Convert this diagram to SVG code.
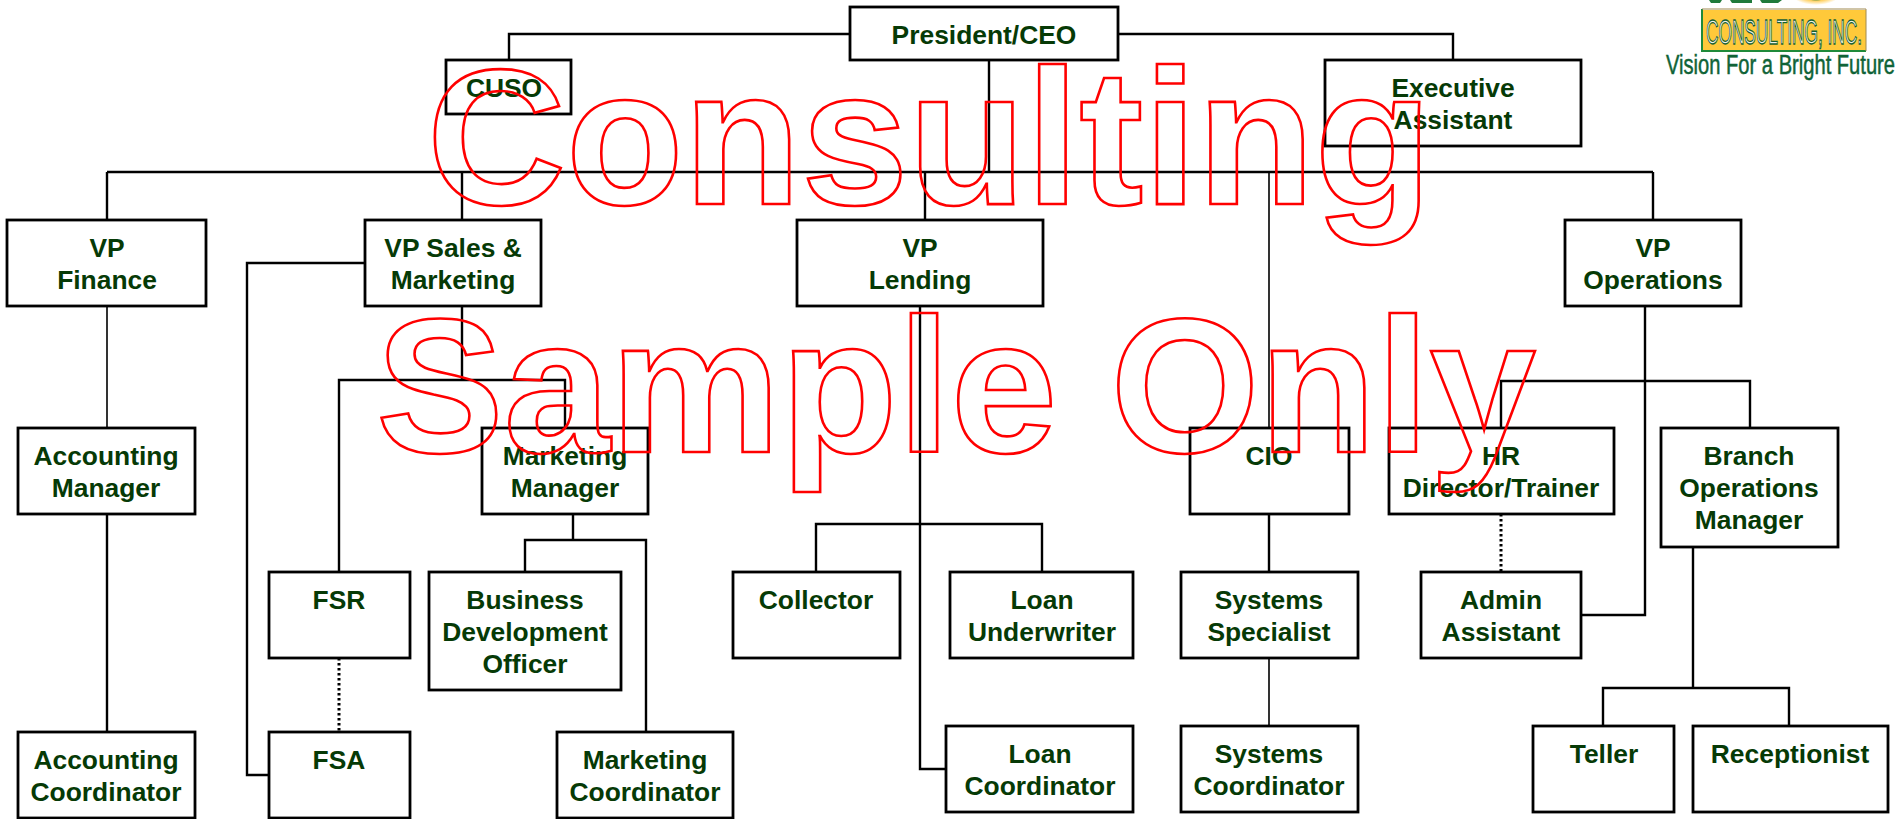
<svg xmlns="http://www.w3.org/2000/svg" width="1896" height="819" viewBox="0 0 1896 819">
<defs>
<radialGradient id="sun"><stop offset="0.6" stop-color="#1f7a3a"/><stop offset="0.68" stop-color="#ffd060"/><stop offset="1" stop-color="#fff"/></radialGradient>
</defs>
<style>
.n{fill:#fff;stroke:#000;stroke-width:2.8}
.t{font:bold 26.4px "Liberation Sans",Arial,sans-serif;fill:#063a06;text-anchor:middle}
.c{fill:none;stroke:#000;stroke-width:2.4}
.f{fill:none;stroke:#000;stroke-width:1.6}
.d{fill:none;stroke:#000;stroke-width:3;stroke-dasharray:2.5 2.5}
.w{font-family:"Liberation Sans",Arial,sans-serif;font-weight:bold;fill:none;stroke:#f00;stroke-width:2.6}
</style>
<rect width="1896" height="819" fill="#fff"/>
<g id="connectors">
<path class="c" d="M850 34H509V60M1118 34H1453V60M989 60V172M107 172H1653M107 172V220M462 172V220M925 172V220M1653 172V220"/>
<path class="f" d="M1269 172V428M107 306V428M1269 658V726"/>
<path class="c" d="M107 514V732M365 263H247V775H269M462 306V380M339 572V380H565V428M573 514V540M525 572V540H646V732M920 306V769H946M816 572V524H1042V572M1269 514V572M1501 428V381H1750V428M1645 306V615H1581M1693 547V688M1603 726V688H1789V726"/>
<path class="d" d="M339 658V732M1501 514V572"/>
</g>
<g id="president"><rect class="n" x="850" y="7" width="268" height="53"/><text class="t" x="984" y="44">President/CEO</text></g>
<g id="cuso"><rect class="n" x="446" y="60" width="125" height="54"/><text class="t" x="504" y="97">CUSO</text></g>
<g id="exec"><rect class="n" x="1325" y="60" width="256" height="86"/><text class="t" x="1453" y="97">Executive</text><text class="t" x="1453" y="129">Assistant</text></g>
<g id="vp-finance"><rect class="n" x="7" y="220" width="199" height="86"/><text class="t" x="107" y="257">VP</text><text class="t" x="107" y="289">Finance</text></g>
<g id="vp-sales"><rect class="n" x="365" y="220" width="176" height="86"/><text class="t" x="453" y="257">VP Sales &amp;</text><text class="t" x="453" y="289">Marketing</text></g>
<g id="vp-lending"><rect class="n" x="797" y="220" width="246" height="86"/><text class="t" x="920" y="257">VP</text><text class="t" x="920" y="289">Lending</text></g>
<g id="vp-ops"><rect class="n" x="1565" y="220" width="176" height="86"/><text class="t" x="1653" y="257">VP</text><text class="t" x="1653" y="289">Operations</text></g>
<g id="acct-mgr"><rect class="n" x="18" y="428" width="177" height="86"/><text class="t" x="106" y="465">Accounting</text><text class="t" x="106" y="497">Manager</text></g>
<g id="mkt-mgr"><rect class="n" x="482" y="428" width="166" height="86"/><text class="t" x="565" y="465">Marketing</text><text class="t" x="565" y="497">Manager</text></g>
<g id="cio"><rect class="n" x="1190" y="428" width="159" height="86"/><text class="t" x="1269" y="465">CIO</text></g>
<g id="hr"><rect class="n" x="1389" y="428" width="225" height="86"/><text class="t" x="1501" y="465">HR</text><text class="t" x="1501" y="497">Director/Trainer</text></g>
<g id="branch"><rect class="n" x="1661" y="428" width="177" height="119"/><text class="t" x="1749" y="465">Branch</text><text class="t" x="1749" y="497">Operations</text><text class="t" x="1749" y="529">Manager</text></g>
<g id="fsr"><rect class="n" x="269" y="572" width="141" height="86"/><text class="t" x="339" y="609">FSR</text></g>
<g id="bdo"><rect class="n" x="429" y="572" width="192" height="118"/><text class="t" x="525" y="609">Business</text><text class="t" x="525" y="641">Development</text><text class="t" x="525" y="673">Officer</text></g>
<g id="collector"><rect class="n" x="733" y="572" width="167" height="86"/><text class="t" x="816" y="609">Collector</text></g>
<g id="underwriter"><rect class="n" x="950" y="572" width="183" height="86"/><text class="t" x="1042" y="609">Loan</text><text class="t" x="1042" y="641">Underwriter</text></g>
<g id="sys-spec"><rect class="n" x="1181" y="572" width="177" height="86"/><text class="t" x="1269" y="609">Systems</text><text class="t" x="1269" y="641">Specialist</text></g>
<g id="admin"><rect class="n" x="1421" y="572" width="160" height="86"/><text class="t" x="1501" y="609">Admin</text><text class="t" x="1501" y="641">Assistant</text></g>
<g id="acct-coord"><rect class="n" x="18" y="732" width="177" height="86"/><text class="t" x="106" y="769">Accounting</text><text class="t" x="106" y="801">Coordinator</text></g>
<g id="fsa"><rect class="n" x="269" y="732" width="141" height="86"/><text class="t" x="339" y="769">FSA</text></g>
<g id="mkt-coord"><rect class="n" x="557" y="732" width="176" height="86"/><text class="t" x="645" y="769">Marketing</text><text class="t" x="645" y="801">Coordinator</text></g>
<g id="loan-coord"><rect class="n" x="946" y="726" width="187" height="86"/><text class="t" x="1040" y="763">Loan</text><text class="t" x="1040" y="795">Coordinator</text></g>
<g id="sys-coord"><rect class="n" x="1181" y="726" width="177" height="86"/><text class="t" x="1269" y="763">Systems</text><text class="t" x="1269" y="795">Coordinator</text></g>
<g id="teller"><rect class="n" x="1533" y="726" width="141" height="86"/><text class="t" x="1604" y="763">Teller</text></g>
<g id="receptionist"><rect class="n" x="1693" y="726" width="195" height="86"/><text class="t" x="1790" y="763">Receptionist</text></g>
<g id="watermark">
<text class="w" x="427" y="204" font-size="192.5">Consulting</text>
<text class="w" x="376" y="452" font-size="191.5">Sample Only</text>
</g>
<g id="logo">
<path d="M1709 0H1722L1720 3H1711ZM1730 0H1752V3H1732ZM1760 0H1782L1778 3H1762Z" fill="#1f7a3a"/>
<ellipse cx="1816" cy="-8" rx="26" ry="13" fill="url(#sun)"/>
<rect x="1702" y="10" width="164" height="40" fill="#ffc93a"/>
<path d="M1702 9V51H1866" fill="none" stroke="#1f8a3a" stroke-width="2"/>
<path d="M1702 9H1866V51" fill="none" stroke="#a08a50" stroke-width="1"/>
<text x="1706" y="44" textLength="156" lengthAdjust="spacingAndGlyphs" font-family="'Liberation Sans Narrow','Liberation Sans',sans-serif" font-size="35" fill="#eef3e8" stroke="#155f35" stroke-width="1.3">CONSULTING, INC.</text>
<text x="1666" y="74" textLength="229" lengthAdjust="spacingAndGlyphs" font-family="'Liberation Sans Narrow','Liberation Sans',sans-serif" font-size="27" fill="#0f6337" stroke="#0f6337" stroke-width="0.5">Vision For a Bright Future</text>
</g>
</svg>
